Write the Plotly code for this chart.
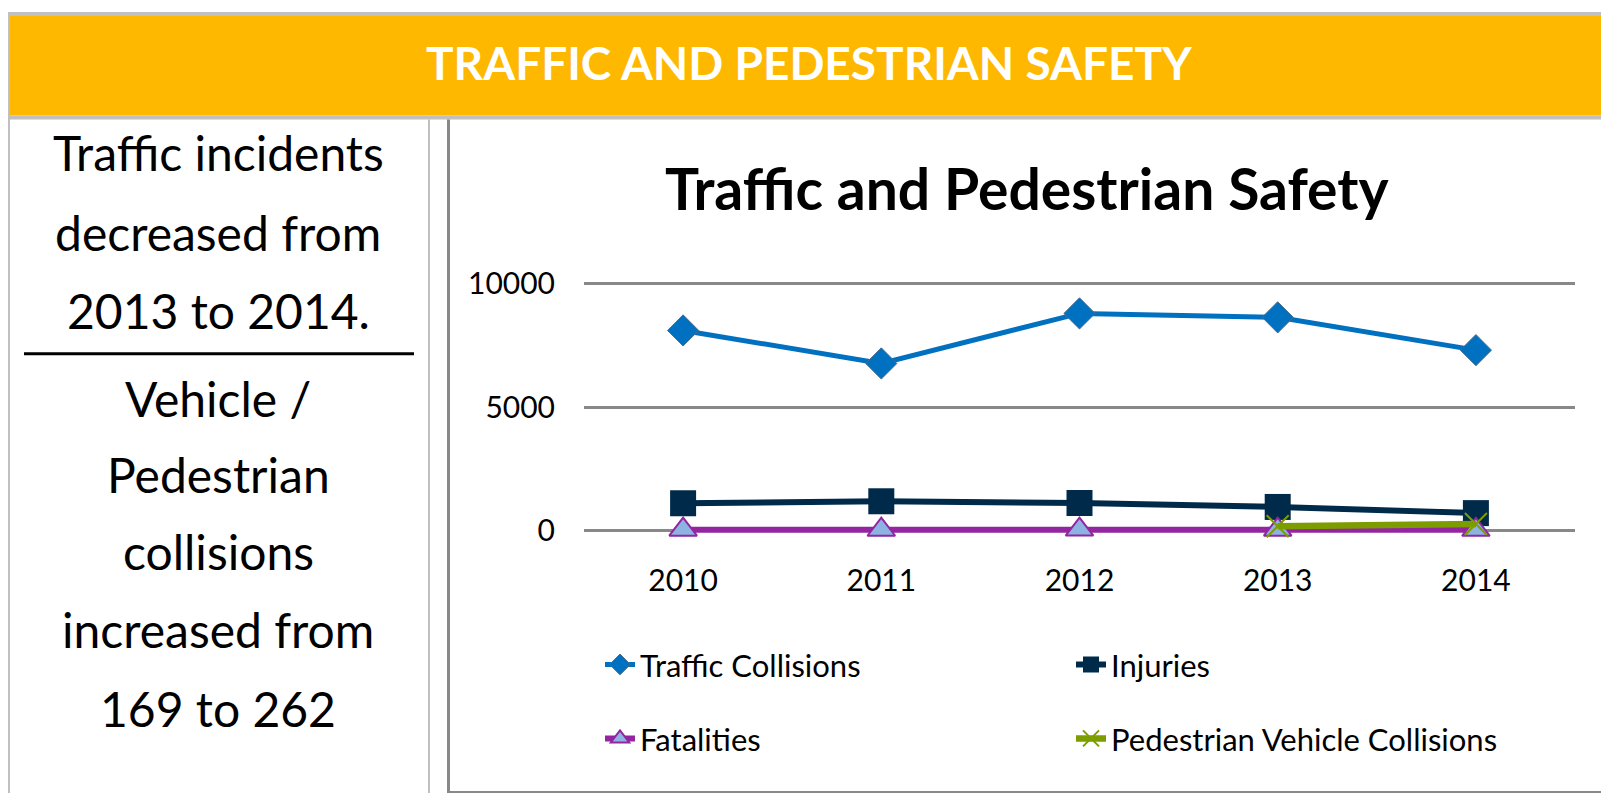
import plotly.graph_objects as go

# datos
years = ['2010', '2011', '2012', '2013', '2014']
traffic_collisions = [8110, 6770, 8800, 8640, 7310]
injuries = [1100, 1180, 1110, 950, 700]
fatalities = [28, 25, 31, 27, 22]
ped_vehicle = [None, None, None, 169, 262]

y_ticks = [0, 5000, 10000]

header = "TRAFFIC AND PEDESTRIAN SAFETY"
chart_title = "Traffic and Pedestrian Safety"
side_top = ["Traffic incidents", "decreased from", "2013 to 2014."]
side_bottom = ["Vehicle /", "Pedestrian", "collisions", "increased from", "169 to 262"]

W, H = 1601, 797
FONT = "Lato, Roboto, sans-serif"


def fx(px):
    return px / W


def fy(py):
    return 1 - py / H


fig = go.Figure()

# Traffic Collisions
fig.add_trace(go.Scatter(
    x=years, y=traffic_collisions, name='Traffic Collisions',
    mode='lines+markers', cliponaxis=False, legend='legend',
    line=dict(color='#0070C0', width=5),
    marker=dict(symbol='diamond', size=24, color='#0070C0',
                line=dict(color='#4A6D8C', width=1))
))

# Injuries
fig.add_trace(go.Scatter(
    x=years, y=injuries, name='Injuries',
    mode='lines+markers', cliponaxis=False, legend='legend',
    line=dict(color='#002A4A', width=6),
    marker=dict(symbol='square', size=26, color='#002A4A')
))

# Fatalities
fig.add_trace(go.Scatter(
    x=years, y=fatalities, name='Fatalities',
    mode='lines+markers', cliponaxis=False, legend='legend2',
    line=dict(color='#9325A1', width=6),
    marker=dict(symbol='triangle-up', size=24, color='#8DB3E2',
                line=dict(color='#9325A1', width=2))
))

# Pedestrian Vehicle Collisions
fig.add_trace(go.Scatter(
    x=years, y=ped_vehicle, name='Pedestrian Vehicle Collisions',
    mode='lines+markers', cliponaxis=False, legend='legend2',
    line=dict(color='#7D9C00', width=6.5),
    marker=dict(symbol='x-thin', size=22, color='#7D9C00',
                line=dict(color='#7D9C00', width=2))
))


def box(x0, x1, y0, y1, color):
    return dict(type='rect', xref='paper', yref='paper', layer='below',
                x0=fx(x0), x1=fx(x1), y0=fy(y0), y1=fy(y1),
                fillcolor=color, line_width=0)


# marcos y franja naranja
shapes = [
    box(8, W, 5, 9, '#C0C0C0'),
    box(8, W, 9, 110, '#FFB800'),
    box(8, W, 110, 114, '#C0C0C0'),
    box(8, 10, 5, H, '#C0C0C0'),
    box(428, 430, 114, H, '#C0C0C0'),
    box(447, 450, 114, H, '#888888'),
    box(447, W, 795, H, '#888888'),
    box(24, 414, 350, 353, '#000000'),
]

annotations = [
    dict(text=f"<b>{header}</b>", x=fx(809), y=fy(56), xref='paper', yref='paper',
         showarrow=False, xanchor='center', yanchor='middle',
         font=dict(family=FONT, size=46, color='white')),
    dict(text=f"<b>{chart_title}</b>", x=fx(1027), y=fy(184), xref='paper', yref='paper',
         showarrow=False, xanchor='center', yanchor='middle',
         font=dict(family=FONT, size=57, color='black')),
]

side_centers = [148, 229, 308, 397, 474, 552, 631, 711]
for txt, yc in zip(side_top + side_bottom, side_centers):
    annotations.append(dict(
        text=txt, x=fx(218), y=fy(yc), xref='paper', yref='paper',
        showarrow=False, xanchor='center', yanchor='middle',
        font=dict(family=FONT, size=48, color='black')))

fig.update_layout(
    width=W, height=H,
    margin=dict(l=0, r=0, t=0, b=0),
    paper_bgcolor='white',
    plot_bgcolor='rgba(0,0,0,0)',
    shapes=shapes,
    annotations=annotations,
    xaxis=dict(
        type='category', range=[-0.5, 4.5],
        domain=[fx(584), fx(1575)],
        showgrid=False, showline=False, zeroline=False, ticks='',
        ticklabelstandoff=17,
        tickfont=dict(family=FONT, size=30, color='black'),
    ),
    yaxis=dict(
        range=[-500, 10500],
        domain=[fy(543.2), fy(268.2)],
        tickvals=y_ticks, tickformat='d',
        showgrid=True, gridcolor='#888888', gridwidth=3,
        showline=False, zeroline=False, ticks='',
        ticklabelstandoff=28,
        tickfont=dict(family=FONT, size=30, color='black'),
    ),
    legend=dict(
        orientation='h', x=fx(600), y=fy(667), xanchor='left', yanchor='middle',
        entrywidth=426, font=dict(family=FONT, size=31, color='black'),
        bgcolor='rgba(0,0,0,0)',
    ),
    legend2=dict(
        orientation='h', x=fx(600), y=fy(742), xanchor='left', yanchor='middle',
        entrywidth=426, font=dict(family=FONT, size=31, color='black'),
        bgcolor='rgba(0,0,0,0)',
    ),
)

fig.write_html("out.html", config={'displayModeBar': False},
               post_script="document.body.style.margin='0';document.body.style.overflow='hidden';")
